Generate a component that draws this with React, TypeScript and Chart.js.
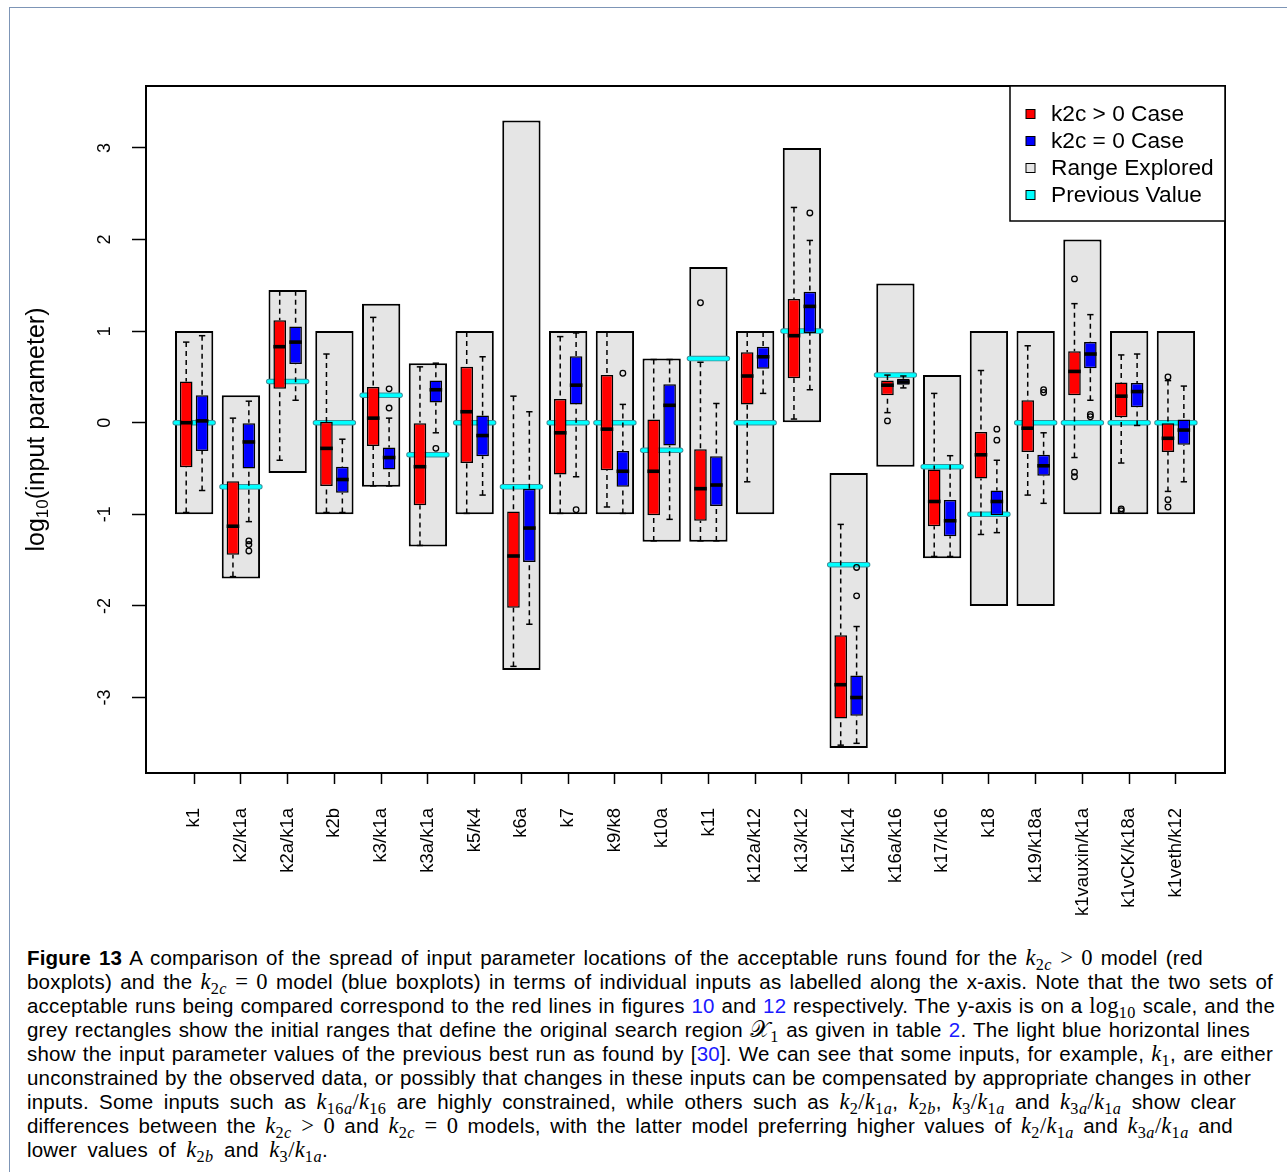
import React, { useEffect, useRef } from "react";
import { Chart, registerables } from "chart.js";

Chart.register(...registerables);

// ---------------- data ----------------
const categories = [
  "k1", "k2/k1a", "k2a/k1a", "k2b", "k3/k1a", "k3a/k1a", "k5/k4", "k6a", "k7", "k9/k8", "k10a",
  "k11", "k12a/k12", "k13/k12", "k15/k14", "k16a/k16", "k17/k16", "k18", "k19/k18a",
  "k1vauxin/k1a", "k1vCK/k18a", "k1veth/k12",
];

const rangeLow = [-1, -1.7, -0.55, -1, -0.7, -1.35, -1, -2.7, -1, -1, -1.3, -1.3, -1, 0, -3.55, -0.48, -1.48, -2, -2, -1, -1, -1];
const rangeHigh = [1, 0.3, 1.45, 1, 1.3, 0.65, 1, 3.3, 1, 1, 0.7, 1.7, 1, 3, -0.55, 1.52, 0.52, 1, 1, 2, 1, 1];
const previousValue = [0, -0.7, 0.45, 0, 0.3, -0.35, 0, -0.7, 0, 0, -0.3, 0.7, 0, 1, -1.55, 0.52, -0.48, -1, 0, 0, 0, 0];

// k2c > 0 case (red)
const redMin = [-0.98, -1.68, -0.41, -0.98, -0.69, -1.34, -0.99, -2.66, -0.99, -0.92, -1.29, -1.29, -0.645, 0.04, -3.52, 0.11, -1.46, -1.22, -0.79, -0.38, -0.44, -0.75];
const redQ1 = [-0.485, -1.44, 0.37, -0.69, -0.255, -0.9, -0.44, -2.02, -0.565, -0.52, -1.01, -1.07, 0.2, 0.485, -3.23, 0.3, -1.13, -0.61, -0.32, 0.3, 0.06, -0.32];
const redMedian = [0, -1.13, 0.83, -0.28, 0.05, -0.48, 0.12, -1.455, -0.11, -0.07, -0.53, -0.72, 0.51, 0.95, -2.86, 0.41, -0.86, -0.35, -0.06, 0.56, 0.29, -0.17];
const redQ3 = [0.45, -0.64, 1.12, 0.01, 0.39, 0, 0.61, -0.97, 0.26, 0.52, 0.035, -0.29, 0.77, 1.35, -2.32, 0.46, -0.51, -0.1, 0.245, 0.78, 0.44, 0];
const redMax = [0.88, 0.05, 1.44, 0.75, 1.15, 0.61, 0.99, 0.29, 0.94, 0.99, 0.69, 0.66, 0.99, 2.35, -1.11, 0.52, 0.32, 0.57, 0.84, 1.3, 0.74, 0.46];
const redOutliers: number[][] = [
  [], [], [], [], [], [], [], [], [], [], [],
  [1.31], [], [], [], [0.02], [], [], [],
  [1.57, -0.54, -0.59], [-0.94, -0.96], [0.5, -0.84, -0.92],
];

// k2c = 0 case (blue)
const blueMin = [-0.74, -1.08, 0.245, -0.98, -0.69, -0.11, -0.79, -2.2, -0.59, -0.99, -1.055, -1.29, 0.32, 0.36, -3.5, 0.38, -1.46, -1.2, -0.88, 0.245, -0.03, -0.645];
const blueQ1 = [-0.31, -0.5, 0.64, -0.765, -0.51, 0.22, -0.365, -1.52, 0.2, -0.7, -0.25, -0.91, 0.59, 0.98, -3.2, 0.415, -1.24, -1.01, -0.58, 0.594, 0.17, -0.24];
const blueMedian = [0.02, -0.21, 0.88, -0.62, -0.38, 0.36, -0.14, -1.15, 0.41, -0.53, 0.19, -0.68, 0.72, 1.27, -3.0, 0.445, -1.07, -0.86, -0.47, 0.75, 0.34, -0.08];
const blueQ3 = [0.3, 0, 1.05, -0.48, -0.27, 0.46, 0.08, -0.72, 0.725, -0.31, 0.42, -0.365, 0.83, 1.43, -2.76, 0.48, -0.845, -0.74, -0.35, 0.88, 0.435, 0.035];
const blueMax = [0.95, 0.235, 1.44, -0.18, 0.05, 0.65, 0.72, 0.12, 0.98, 0.2, 0.69, 0.21, 0.99, 1.99, -2.225, 0.51, -0.36, -0.41, -0.11, 1.18, 0.75, 0.4];
const blueOutliers: number[][] = [
  [], [-1.29, -1.33, -1.4], [], [], [0.37, 0.16], [-0.28], [], [], [-0.95], [0.54], [],
  [], [], [2.29], [-1.58, -1.89], [], [], [-0.07, -0.19], [0.36, 0.33],
  [0.09, 0.065], [], [],
];

const yTickValues = [-3, -2, -1, 0, 1, 2, 3];
const legendLabels = ["k2c > 0 Case", "k2c = 0 Case", "Range Explored", "Previous Value"];

// ---------------- layout / style ----------------
const W = 1287;
const H = 935;
const PLOT = { left: 146, top: 86, right: 1225, bottom: 773 };
const X_MIN = -0.03;
const X_MAX = 23.05;
const Y_MIN = -3.824;
const Y_MAX = 3.676;
const GROUP_OFFSET = 0.17;
const BOX_HALF = 0.135;
const STAPLE_HALF = 0.068;
const PREV_HALF = 0.405;
const RANGE_PX = 38.3;
const BOX_PX = 12.6;

const RED = "#FF0000";
const BLUE = "#0000FF";
const GREY = "#E5E5E5";
const CYAN = "#00FFFF";
const SANS = '"Liberation Sans", Arial, Helvetica, sans-serif';

const groups = [
  { min: redMin, q1: redQ1, med: redMedian, q3: redQ3, max: redMax, offset: -GROUP_OFFSET },
  { min: blueMin, q1: blueQ1, med: blueMedian, q3: blueQ3, max: blueMax, offset: GROUP_OFFSET },
];

const boxplotPlugin = {
  id: "boxplotExtras",
  afterDatasetDraw(chart: any, args: any) {
    const ctx = chart.ctx;
    const xs = chart.scales.x;
    const ys = chart.scales.y;
    if (args.index === 0) {
      // previous values (cyan lines)
      ctx.save();
      ctx.lineCap = "round";
      previousValue.forEach((v, i) => {
        const x0 = xs.getPixelForValue(i + 1 - PREV_HALF);
        const x1 = xs.getPixelForValue(i + 1 + PREV_HALF);
        const y = ys.getPixelForValue(v);
        ctx.strokeStyle = "#3c8f99";
        ctx.lineWidth = 5.5;
        ctx.beginPath(); ctx.moveTo(x0, y); ctx.lineTo(x1, y); ctx.stroke();
        ctx.strokeStyle = CYAN;
        ctx.lineWidth = 3.6;
        ctx.beginPath(); ctx.moveTo(x0, y); ctx.lineTo(x1, y); ctx.stroke();
      });
      ctx.restore();
    }
    if (args.index === 1 || args.index === 2) {
      const g = groups[args.index - 1];
      ctx.save();
      ctx.strokeStyle = "#000";
      categories.forEach((_, i) => {
        const cx = xs.getPixelForValue(i + 1 + g.offset);
        const sh = xs.getPixelForValue(i + 1 + g.offset + STAPLE_HALF) - cx;
        const bh = xs.getPixelForValue(i + 1 + g.offset + BOX_HALF) - cx;
        const yMin = ys.getPixelForValue(g.min[i]);
        const yQ1 = ys.getPixelForValue(g.q1[i]);
        const yMed = ys.getPixelForValue(g.med[i]);
        const yQ3 = ys.getPixelForValue(g.q3[i]);
        const yMax = ys.getPixelForValue(g.max[i]);
        // whiskers
        ctx.lineWidth = 1.5;
        ctx.lineCap = "butt";
        ctx.setLineDash([5, 4]);
        ctx.beginPath(); ctx.moveTo(cx, yMin); ctx.lineTo(cx, yQ1); ctx.stroke();
        ctx.beginPath(); ctx.moveTo(cx, yMax); ctx.lineTo(cx, yQ3); ctx.stroke();
        ctx.setLineDash([]);
        // staples
        ctx.beginPath(); ctx.moveTo(cx - sh, yMin); ctx.lineTo(cx + sh, yMin); ctx.stroke();
        ctx.beginPath(); ctx.moveTo(cx - sh, yMax); ctx.lineTo(cx + sh, yMax); ctx.stroke();
        // median
        ctx.lineWidth = 3.6;
        ctx.beginPath(); ctx.moveTo(cx - bh, yMed); ctx.lineTo(cx + bh, yMed); ctx.stroke();
      });
      ctx.restore();
    }
  },
  afterDraw(chart: any) {
    const ctx = chart.ctx;
    const ca = chart.chartArea;
    const ys = chart.scales.y;
    ctx.save();
    // plot box
    ctx.strokeStyle = "#000";
    ctx.lineWidth = 2;
    ctx.strokeRect(ca.left, ca.top, ca.right - ca.left, ca.bottom - ca.top);
    // y tick labels (parallel to axis)
    ctx.fillStyle = "#000";
    ctx.font = `18px ${SANS}`;
    ctx.textAlign = "center";
    ctx.textBaseline = "middle";
    ys.ticks.forEach((t: any) => {
      const py = ys.getPixelForValue(t.value);
      ctx.save();
      ctx.translate(ca.left - 41, py);
      ctx.rotate(-Math.PI / 2);
      ctx.fillText(String(t.value), 0, 0);
      ctx.restore();
    });
    // y axis title
    ctx.save();
    ctx.translate(37, (ca.top + ca.bottom) / 2);
    ctx.rotate(-Math.PI / 2);
    const big = `25px ${SANS}`;
    const small = `17px ${SANS}`;
    ctx.font = big;
    const w1 = ctx.measureText("log").width;
    const w3 = ctx.measureText("(input parameter)").width;
    ctx.font = small;
    const w2 = ctx.measureText("10").width;
    let px = -(w1 + w2 + w3) / 2;
    ctx.textAlign = "left";
    ctx.textBaseline = "middle";
    ctx.font = big; ctx.fillText("log", px, 0); px += w1;
    ctx.font = small; ctx.fillText("10", px, 6); px += w2;
    ctx.font = big; ctx.fillText("(input parameter)", px, 0);
    ctx.restore();
    // legend
    const lw = 215;
    const lh = 135;
    const lx = ca.right - lw;
    const ly = ca.top;
    ctx.fillStyle = "#fff";
    ctx.fillRect(lx, ly, lw, lh);
    ctx.strokeStyle = "#000";
    ctx.lineWidth = 1.5;
    ctx.strokeRect(lx, ly, lw, lh);
    const colors = [RED, BLUE, GREY, CYAN];
    ctx.font = `22.7px ${SANS}`;
    ctx.textAlign = "left";
    ctx.textBaseline = "middle";
    legendLabels.forEach((lab, k) => {
      const ry = ly + 28 + k * 27;
      ctx.fillStyle = colors[k];
      ctx.fillRect(lx + 16, ry - 4.5, 9, 9);
      ctx.lineWidth = 1;
      ctx.strokeStyle = "#000";
      ctx.strokeRect(lx + 16, ry - 4.5, 9, 9);
      ctx.fillStyle = "#000";
      ctx.fillText(lab, lx + 41, ry + 1);
    });
    ctx.restore();
  },
};

function buildConfig(): any {
  const rangeData = categories.map((_, i) => ({ x: i + 1, y: [rangeLow[i], rangeHigh[i]] }));
  const redData = categories.map((_, i) => ({ x: i + 1 - GROUP_OFFSET, y: [redQ1[i], redQ3[i]] }));
  const blueData = categories.map((_, i) => ({ x: i + 1 + GROUP_OFFSET, y: [blueQ1[i], blueQ3[i]] }));
  const redOut = categories.flatMap((_, i) => redOutliers[i].map((v) => ({ x: i + 1 - GROUP_OFFSET, y: v })));
  const blueOut = categories.flatMap((_, i) => blueOutliers[i].map((v) => ({ x: i + 1 + GROUP_OFFSET, y: v })));
  const barCommon = {
    grouped: false,
    borderSkipped: false,
    borderColor: "#000",
    categoryPercentage: 1,
    barPercentage: 100,
  };
  const outCommon = {
    type: "scatter",
    pointStyle: "circle",
    radius: 2.8,
    borderWidth: 1.3,
    borderColor: "#000",
    backgroundColor: "rgba(0,0,0,0)",
    order: 0,
  };
  return {
    type: "bar",
    data: {
      datasets: [
        { ...barCommon, label: legendLabels[2], data: rangeData, backgroundColor: GREY, borderWidth: 2, maxBarThickness: RANGE_PX, order: 10 },
        { ...barCommon, label: legendLabels[0], data: redData, backgroundColor: RED, borderWidth: 1.5, maxBarThickness: BOX_PX, order: 5 },
        { ...barCommon, label: legendLabels[1], data: blueData, backgroundColor: BLUE, borderWidth: 1.5, maxBarThickness: BOX_PX, order: 5 },
        { ...outCommon, label: "k2c > 0 outliers", data: redOut },
        { ...outCommon, label: "k2c = 0 outliers", data: blueOut },
      ],
    },
    options: {
      responsive: false,
      animation: false,
      devicePixelRatio: 1,
      events: [],
      layout: { padding: { left: 0, top: PLOT.top, right: W - PLOT.right, bottom: 0 } },
      plugins: { legend: { display: false }, tooltip: { enabled: false } },
      scales: {
        x: {
          type: "linear",
          min: X_MIN,
          max: X_MAX,
          offset: false,
          afterBuildTicks: (s: any) => {
            s.ticks = categories.map((_, i) => ({ value: i + 1 }));
          },
          afterFit: (s: any) => {
            s.height = H - PLOT.bottom;
          },
          ticks: {
            autoSkip: false,
            minRotation: 90,
            maxRotation: 90,
            padding: 24,
            color: "#000",
            font: { family: SANS, size: 18.5 },
            callback: (v: any) => categories[Math.round(Number(v)) - 1] ?? "",
          },
          grid: { offset: false, drawOnChartArea: false, drawTicks: true, tickLength: 11, tickColor: "#000", tickWidth: 1.5 },
          border: { display: true, color: "#000", width: 2 },
        },
        y: {
          type: "linear",
          position: "left",
          min: Y_MIN,
          max: Y_MAX,
          afterBuildTicks: (s: any) => {
            s.ticks = yTickValues.map((v) => ({ value: v }));
          },
          afterFit: (s: any) => {
            s.width = PLOT.left;
          },
          ticks: { display: false },
          grid: { drawOnChartArea: false, drawTicks: true, tickLength: 14, tickColor: "#000", tickWidth: 1.5 },
          border: { display: true, color: "#000", width: 2 },
        },
      },
    },
    plugins: [boxplotPlugin],
  };
}

// ---------------- caption helpers ----------------
const SERIF = '"Liberation Serif", "DejaVu Serif", serif';
const LINK = "#1a1aff";
const CAPTION_LEFT = 27;
const CAPTION_LINE_ENDS = [1203, 1273, 1275, 1250, 1273, 1251, 1236, 1233, 328];

function Sub({ t }: { t: string }) {
  return (
    <sub style={{ fontSize: "0.72em", verticalAlign: "-0.3em", lineHeight: 0, letterSpacing: "0.5px" }}>
      {t.split("").map((c, i) =>
        /[0-9]/.test(c) ? (
          <span key={i} style={{ fontStyle: "normal" }}>{c}</span>
        ) : (
          <span key={i} style={{ fontStyle: "italic" }}>{c}</span>
        )
      )}
    </sub>
  );
}

function K({ s }: { s: string }) {
  return (
    <span style={{ fontFamily: SERIF, fontSize: "1.1em", lineHeight: 0 }}>
      <span style={{ fontStyle: "italic" }}>k</span>
      <Sub t={s} />
    </span>
  );
}

function M({ children }: { children: React.ReactNode }) {
  return <span style={{ fontFamily: SERIF, fontSize: "1.1em", lineHeight: 0 }}>{children}</span>;
}

function KK({ a, b }: { a: string; b: string }) {
  return (
    <span style={{ whiteSpace: "nowrap" }}>
      <K s={a} />
      <M>/</M>
      <K s={b} />
    </span>
  );
}

function L({ children }: { children: React.ReactNode }) {
  return <span style={{ color: LINK }}>{children}</span>;
}

function Line({ n, children }: { n: number; children: React.ReactNode }) {
  return (
    <div
      style={{
        width: CAPTION_LINE_ENDS[n] - CAPTION_LEFT,
        height: 24,
        textAlign: "justify",
        textAlignLast: "justify",
        overflow: "visible",
      }}
    >
      {children}
    </div>
  );
}

export default function App() {
  const ref = useRef<HTMLCanvasElement | null>(null);
  useEffect(() => {
    const canvas = ref.current;
    if (!canvas) return;
    const chart = new Chart(canvas, buildConfig());
    return () => chart.destroy();
  }, []);
  return (
    <div style={{ position: "absolute", left: 0, top: 0, width: W, height: 1172, background: "#fff", overflow: "hidden" }}>
      <div
        style={{
          position: "absolute",
          left: 9,
          top: 7,
          right: 0,
          bottom: 0,
          borderLeft: "1.5px solid #7d95b6",
          borderTop: "1.5px solid #7d95b6",
        }}
      />
      <canvas ref={ref} width={W} height={H} style={{ position: "absolute", left: 0, top: 0, width: W, height: H }} />
      <div
        style={{
          position: "absolute",
          left: CAPTION_LEFT,
          top: 946,
          fontFamily: SANS,
          fontSize: 20.5,
          letterSpacing: "0.2px",
          lineHeight: "24px",
          color: "#000",
        }}
      >
        <Line n={0}>
          <b>Figure 13</b> A comparison of the spread of input parameter locations of the acceptable runs found for the <K s="2c" /> <M>&gt; 0</M> model (red
        </Line>
        <Line n={1}>
          boxplots) and the <K s="2c" /> <M>= 0</M> model (blue boxplots) in terms of individual inputs as labelled along the x-axis. Note that the two sets of
        </Line>
        <Line n={2}>
          acceptable runs being compared correspond to the red lines in figures <L>10</L> and <L>12</L> respectively. The y-axis is on a{" "}
          <M>
            log<Sub t="10" />
          </M>{" "}
          scale, and the
        </Line>
        <Line n={3}>
          grey rectangles show the initial ranges that define the original search region{" "}
          <M>
            <span>𝒳</span>
            <Sub t="1" />
          </M>{" "}
          as given in table <L>2</L>. The light blue horizontal lines
        </Line>
        <Line n={4}>
          show the input parameter values of the previous best run as found by [<L>30</L>]. We can see that some inputs, for example, <K s="1" />, are either
        </Line>
        <Line n={5}>
          unconstrained by the observed data, or possibly that changes in these inputs can be compensated by appropriate changes in other
        </Line>
        <Line n={6}>
          inputs. Some inputs such as <KK a="16a" b="16" /> are highly constrained, while others such as <KK a="2" b="1a" />, <K s="2b" />,{" "}
          <KK a="3" b="1a" /> and <KK a="3a" b="1a" /> show clear
        </Line>
        <Line n={7}>
          differences between the <K s="2c" /> <M>&gt; 0</M> and <K s="2c" /> <M>= 0</M> models, with the latter model preferring higher values of{" "}
          <KK a="2" b="1a" /> and <KK a="3a" b="1a" /> and
        </Line>
        <Line n={8}>
          lower values of <K s="2b" /> and <KK a="3" b="1a" />.
        </Line>
      </div>
    </div>
  );
}
